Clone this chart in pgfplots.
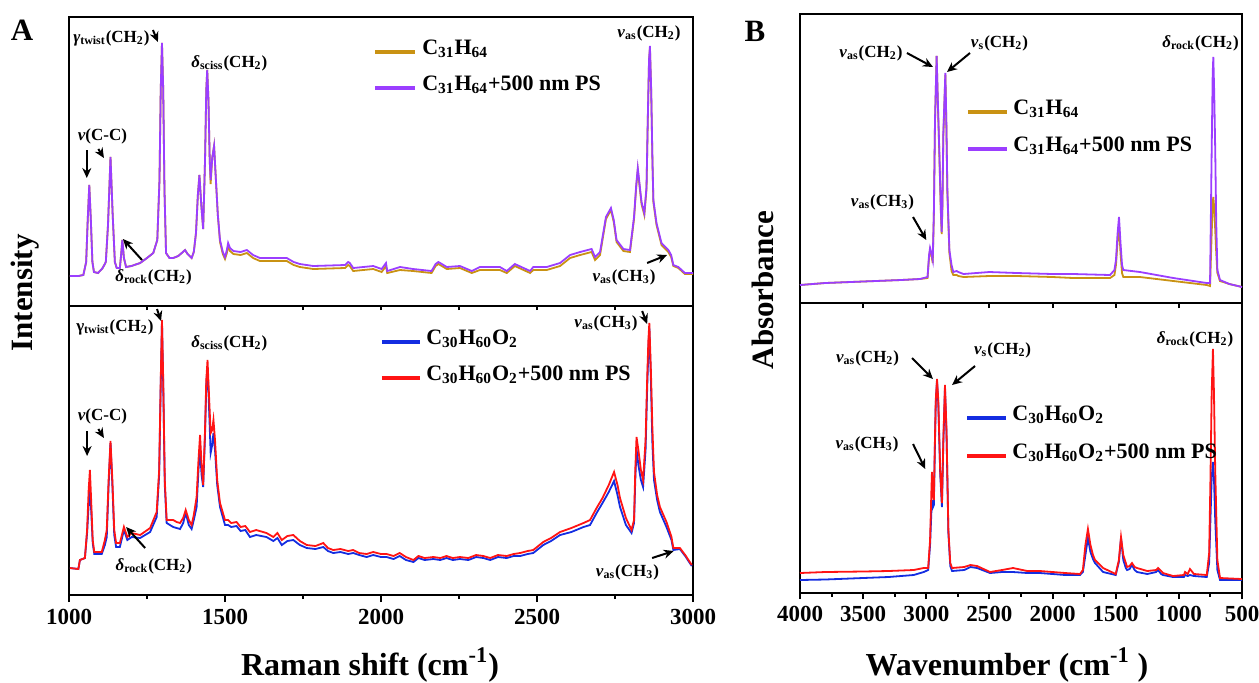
\documentclass[border=0pt]{standalone}
\usepackage{fontspec}
\setmainfont{Liberation Serif}
\usepackage{pgfplots}
\pgfplotsset{compat=1.18}
\usetikzlibrary{arrows.meta}

\definecolor{cgold}{RGB}{201,146,19}
\definecolor{cpurple}{RGB}{155,62,255}
\definecolor{cblue}{RGB}{20,45,225}
\definecolor{cred}{RGB}{255,20,20}

\newcommand{\vas}{\textit{v}\textsubscript{as}}
\newcommand{\vs}{\textit{v}\textsubscript{s}}
\newcommand{\CH}[1]{(CH\textsubscript{#1})}

\pgfplotsset{
  panel/.style={scale only axis, anchor=north west, ymin=0, ytick=\empty,
    axis line style={line width=1pt}, tick style={black, line width=1pt},
    tick align=outside, xtick pos=left, clip=false, scaled x ticks=false,
    xticklabel style={font=\fontsize{11.5}{13}\selectfont\bfseries},
    /pgf/number format/assume math mode=true,
    /pgf/number format/1000 sep={}},
}
\tikzset{
  lbl/.style={font=\fontsize{8.5}{10}\selectfont\bfseries, inner sep=0pt},
  arr/.style={-{Stealth[length=5pt,width=4.5pt]}, line width=1pt},
  leg/.style={font=\fontsize{11}{13}\selectfont\bfseries, anchor=base west, inner sep=0pt},
  big/.style={font=\fontsize{15.5}{18}\selectfont\bfseries},
}

\begin{document}
\begin{tikzpicture}
\useasboundingbox (0,0) rectangle (629.5pt,-341pt);

% ---------- A, top: Raman C31H64 ----------
\begin{axis}[panel, at={(34.5pt,-8.5pt)}, width=312pt, height=144.5pt,
  xmin=1000, xmax=3000, ymax=289,
  xtick={1000,1250,...,3000}, xticklabels={}, major tick length=2pt]
\addplot[cgold, line width=0.9pt] coordinates {
(1003,30)(1030,30)(1046,31)(1055,44)(1060,86)(1065,121)(1070,86)(1075,44)(1080,34)(1093,33)(1108,38)(1118,44)(1125,81)(1133,149)(1140,91)(1147,44)(1153,38)(1163,38)(1167,51)(1171,66)(1176,48)(1183,39)(1200,40)(1228,43)(1250,48)(1270,53)(1283,66)(1290,126)(1294,216)(1298,263)(1302,216)(1306,116)(1311,53)(1322,48)(1334,48)(1350,50)(1365,54)(1372,56)(1380,52)(1393,48)(1400,54)(1407,73)(1413,111)(1418,131)(1424,101)(1430,77)(1436,146)(1440,216)(1443,236)(1447,206)(1451,146)(1454,122)(1459,148)(1465,160)(1470,131)(1477,91)(1484,64)
(1493,52)(1500,47)(1506,53)(1510,60)(1516,55)(1527,52)(1550,51)(1570,53)(1590,48)(1612,45)(1650,45)(1698,45)(1720,41)(1740,39)(1783,37)(1885,38)(1895,41)(1900,40)(1911,35)(1975,37)(2002,34)(2016,40)(2020,33)(2061,36)(2103,35)(2162,33)(2175,40)(2184,42)(2211,37)(2253,38)(2291,33)(2317,36)(2381,36)(2403,33)(2429,40)(2478,33)(2488,36)(2531,36)(2574,40)(2606,48)(2638,51)(2675,54)(2686,46)(2702,51)(2721,87)(2737,96)(2746,84)(2755,64)(2777,55)(2798,54)(2811,87)(2818,119)(2823,136)(2829,119)(2835,102)(2844,91)(2851,117)(2855,184)(2859,244)(2862,258)(2866,214)(2870,144)(2873,104)(2883,81)(2899,61)(2921,54)(2930,49)(2937,40)(2953,38)(2974,32)(2985,32)(3000,32)
};
\addplot[cpurple, line width=0.9pt] coordinates {
(1003,30)(1030,30)(1046,31)(1055,44)(1060,86)(1065,121)(1070,86)(1075,44)(1080,34)(1093,33)(1108,38)(1118,44)(1125,81)(1133,149)(1140,91)(1147,44)(1153,38)(1163,38)(1167,51)(1171,66)(1176,48)(1183,39)(1200,40)(1228,43)(1250,48)(1270,53)(1283,66)(1290,126)(1294,216)(1298,263)(1302,216)(1306,116)(1311,53)(1322,48)(1334,48)(1350,50)(1365,54)(1372,56)(1380,52)(1393,48)(1400,54)(1407,73)(1413,111)(1418,131)(1424,101)(1430,77)(1436,146)(1440,216)(1443,236)(1447,206)(1451,146)(1454,126)(1459,148)(1465,160)(1470,131)(1477,91)(1484,66)
(1493,54)(1500,49)(1506,56)(1510,63)(1516,58)(1527,55)(1550,54)(1570,56)(1590,51)(1612,48)(1650,48)(1698,48)(1720,44)(1740,42)(1783,40)(1885,41)(1895,44)(1900,43)(1911,38)(1975,40)(2002,37)(2016,43)(2020,35)(2061,39)(2103,37)(2162,35)(2175,42)(2184,44)(2211,39)(2253,40)(2291,35)(2317,39)(2381,39)(2403,35)(2429,42)(2478,35)(2488,39)(2531,39)(2574,43)(2606,51)(2638,54)(2675,57)(2686,49)(2702,54)(2721,89)(2737,98)(2746,86)(2755,66)(2777,57)(2798,56)(2811,89)(2818,121)(2823,138)(2829,121)(2835,104)(2844,93)(2851,119)(2855,186)(2859,246)(2862,260)(2866,216)(2870,146)(2873,106)(2883,83)(2899,63)(2921,56)(2930,51)(2937,41)(2953,39)(2974,33)(2985,33)(3000,33)
};
\node[lbl] at (axis cs:1136,268) {\textit{γ}\textsubscript{twist}\CH{2}};
\draw[arr] (axis cs:1269,276) -- (axis cs:1285,264);
\node[lbl] at (axis cs:1514,243) {\textit{δ}\textsubscript{sciss}\CH{2}};
\node[lbl] at (axis cs:1107,170) {\textit{v}(C-C)};
\draw[arr] (axis cs:1057,156) -- (axis cs:1057,128);
\draw[arr] (axis cs:1094,157) -- (axis cs:1112,148);
\draw[arr] (axis cs:1234,46) -- (axis cs:1173,67);
\node[lbl] at (axis cs:1271,29) {\textit{δ}\textsubscript{rock}\CH{2}};
\node[lbl] at (axis cs:2859,273) {\vas\CH{2}};
\draw[arr] (axis cs:2853,43) -- (axis cs:2917,51);
\node[lbl] at (axis cs:2779,29) {\vas\CH{3}};
\draw[cgold, line width=2.2pt] (axis cs:1981,254) -- (axis cs:2109,254);
\node[leg] at (axis cs:2131,252) {C\textsubscript{31}H\textsubscript{64}};
\draw[cpurple, line width=2.2pt] (axis cs:1981,218) -- (axis cs:2109,218);
\node[leg] at (axis cs:2131,216) {C\textsubscript{31}H\textsubscript{64}+500 nm PS};
\end{axis}

% ---------- A, bottom: Raman C30H60O2 ----------
\begin{axis}[panel, at={(34.5pt,-153pt)}, width=312pt, height=144.5pt,
  xmin=1000, xmax=3000, ymax=289,
  xtick={1000,1500,...,3000}, minor xtick={1250,1750,...,2750},
  major tick length=3.5pt, minor tick length=2pt]
\addplot[cblue, line width=0.9pt] coordinates {
(1003,27)(1030,26)(1035,35)(1051,37)(1058,62)(1063,90)(1067,105)(1071,85)(1076,52)(1081,41)(1105,41)(1115,50)(1121,58)(1127,110)(1133,152)(1139,110)(1145,60)(1151,48)(1163,48)(1176,65)(1187,55)(1201,58)(1228,57)(1260,63)(1281,78)(1289,120)(1294,210)(1298,273)(1302,210)(1307,110)(1313,72)(1334,68)(1345,67)(1356,66)(1366,72)(1374,82)(1384,70)(1393,66)(1400,75)(1409,88)(1415,125)(1420,145)(1425,120)(1430,108)(1436,160)(1440,210)(1444,228)(1448,195)(1454,142)(1459,150)(1463,162)(1468,145)(1475,110)(1484,88)(1500,70)(1510,70)(1520,68)(1537,69)(1550,64)(1565,65)(1580,58)(1600,60)(1633,58)(1655,54)(1668,57)(1682,50)(1700,54)(1719,55)(1740,50)(1762,47)(1790,46)(1815,48)(1830,44)(1847,42)(1870,43)(1895,41)(1911,42)(1930,40)(1954,38)(1975,40)(2000,38)(2018,38)(2040,36)(2060,39)(2080,35)(2104,33)(2120,37)(2140,35)(2168,36)(2190,35)(2210,37)(2230,35)(2253,36)(2280,35)(2305,38)(2328,37)(2350,35)(2375,38)(2403,37)(2425,39)(2446,39)(2470,41)(2488,42)(2520,50)(2545,54)(2574,60)(2610,63)(2649,68)(2670,70)(2691,82)(2710,92)(2730,103)(2747,114)(2758,100)(2766,88)(2785,70)(2803,62)(2811,72)(2815,115)(2819,146)(2825,130)(2833,115)(2840,108)(2848,145)(2853,205)(2857,245)(2860,267)(2865,215)(2870,150)(2875,115)(2885,95)(2894,83)(2915,68)(2931,55)(2937,45)(2958,46)(2975,39)(2996,29)
};
\addplot[cred, line width=0.9pt] coordinates {
(1003,27)(1030,26)(1035,35)(1051,37)(1058,65)(1063,105)(1067,125)(1071,95)(1076,55)(1081,43)(1105,43)(1115,55)(1121,65)(1127,115)(1133,154)(1139,115)(1145,65)(1151,52)(1163,52)(1176,68)(1187,58)(1201,62)(1228,60)(1260,67)(1281,83)(1289,125)(1294,215)(1298,275)(1302,215)(1307,115)(1313,75)(1334,75)(1345,73)(1356,72)(1366,77)(1374,85)(1384,75)(1393,70)(1400,80)(1409,98)(1415,135)(1420,160)(1425,130)(1430,110)(1436,165)(1440,215)(1444,235)(1448,205)(1454,162)(1459,165)(1463,175)(1468,155)(1475,115)(1484,92)(1500,75)(1510,75)(1520,72)(1537,73)(1550,68)(1565,69)(1580,63)(1600,65)(1633,62)(1655,58)(1668,62)(1682,55)(1700,59)(1719,60)(1740,54)(1762,50)(1790,49)(1815,52)(1830,47)(1847,45)(1870,46)(1895,44)(1911,45)(1930,42)(1954,41)(1975,43)(2000,41)(2018,41)(2040,39)(2060,42)(2080,38)(2104,35)(2120,39)(2140,37)(2168,38)(2190,37)(2210,39)(2230,37)(2253,38)(2280,37)(2305,40)(2328,39)(2350,37)(2375,40)(2403,39)(2425,41)(2446,42)(2470,44)(2488,45)(2520,53)(2545,57)(2574,63)(2610,67)(2649,72)(2670,75)(2691,87)(2710,97)(2730,110)(2747,123)(2758,110)(2766,97)(2785,77)(2803,65)(2811,75)(2815,125)(2819,158)(2825,145)(2833,125)(2840,115)(2848,155)(2853,215)(2857,255)(2860,272)(2865,225)(2870,165)(2875,123)(2885,100)(2894,88)(2915,73)(2931,58)(2937,47)(2958,47)(2975,40)(2996,30)
};
\node[lbl] at (axis cs:1147,268) {γ\textsubscript{twist}\CH{2}};
\draw[arr] (axis cs:1282,286) -- (axis cs:1295,274);
\node[lbl] at (axis cs:1514,252) {\textit{δ}\textsubscript{sciss}\CH{2}};
\node[lbl] at (axis cs:1107,179) {\textit{v}(C-C)};
\draw[arr] (axis cs:1058,164) -- (axis cs:1058,139);
\draw[arr] (axis cs:1094,166) -- (axis cs:1112,157);
\draw[arr] (axis cs:1244,47) -- (axis cs:1183,68);
\node[lbl] at (axis cs:1272,29) {\textit{δ}\textsubscript{rock}\CH{2}};
\node[lbl] at (axis cs:2721,272) {\vas\CH{3}};
\draw[arr] (axis cs:2837,284) -- (axis cs:2853,271);
\draw[arr] (axis cs:2869,37) -- (axis cs:2938,44);
\node[lbl] at (axis cs:2790,23) {\vas\CH{3}};
\draw[cblue, line width=2.2pt] (axis cs:2003,253) -- (axis cs:2125,253);
\node[leg] at (axis cs:2144,251) {C\textsubscript{30}H\textsubscript{60}O\textsubscript{2}};
\draw[cred, line width=2.2pt] (axis cs:2003,217) -- (axis cs:2125,217);
\node[leg] at (axis cs:2144,215) {C\textsubscript{30}H\textsubscript{60}O\textsubscript{2}+500 nm PS};
\end{axis}

% ---------- B, top: IR C31H64 ----------
\begin{axis}[panel, at={(400pt,-7pt)}, width=221pt, height=144.5pt,
  x dir=reverse, xmin=500, xmax=4000, ymax=289,
  xtick={1000,1500,...,3500}, xticklabels={}, major tick length=2.5pt]
\addplot[cgold, line width=0.9pt] coordinates {
(4000,18)(3800,20)(3600,21)(3400,22)(3200,23)(3050,24)(2990,25)(2978,46)(2970,53)(2960,48)(2949,40)(2940,88)(2931,181)(2918,247)(2908,198)(2897,150)(2885,92)(2878,69)(2872,97)(2865,167)(2849,228)(2841,177)(2833,110)(2817,50)(2800,32)(2786,28)(2760,28)(2746,27)(2705,26)(2500,27)(2284,27)(2000,26)(1838,25)(1545,25)(1510,28)(1498,38)(1485,62)(1474,78)(1462,50)(1450,30)(1440,26)(1308,26)(1044,22)(779,18)(753,17)(740,70)(732,100)(727,106)(720,95)(712,73)(704,50)(695,30)(674,22)(600,19)(500,16)
};
\addplot[cpurple, line width=0.9pt] coordinates {
(4000,18)(3800,20)(3600,21)(3400,22)(3200,23)(3050,24)(2990,26)(2978,48)(2970,55)(2960,50)(2949,43)(2940,90)(2931,183)(2918,247)(2908,200)(2897,153)(2885,95)(2878,71)(2872,100)(2865,170)(2849,230)(2841,180)(2833,113)(2817,53)(2800,38)(2786,31)(2760,32)(2746,31)(2705,29)(2500,31)(2284,30)(2000,29)(1838,29)(1545,28)(1510,33)(1498,43)(1485,70)(1474,86)(1462,60)(1450,38)(1440,33)(1308,31)(1044,25)(779,20)(753,20)(740,153)(732,230)(727,246)(720,210)(712,153)(704,80)(695,33)(674,23)(600,19)(500,16)
};
\node[lbl] at (axis cs:3438,250) {\vas\CH{2}};
\draw[arr] (axis cs:3153,250) -- (axis cs:2947,236);
\node[lbl] at (axis cs:2420,260) {\vs\CH{2}};
\draw[arr] (axis cs:2654,250) -- (axis cs:2836,231);
\node[lbl] at (axis cs:828,260) {\textit{δ}\textsubscript{rock}\CH{2}};
\node[lbl] at (axis cs:3347,101) {\vas\CH{3}};
\draw[arr] (axis cs:3105,86) -- (axis cs:3000,63);
\draw[cgold, line width=2.2pt] (axis cs:2670,191) -- (axis cs:2361,191);
\node[leg] at (axis cs:2313,189) {C\textsubscript{31}H\textsubscript{64}};
\draw[cpurple, line width=2.2pt] (axis cs:2670,154) -- (axis cs:2361,154);
\node[leg] at (axis cs:2313,152) {C\textsubscript{31}H\textsubscript{64}+500 nm PS};
\end{axis}

% ---------- B, bottom: IR C30H60O2 ----------
\begin{axis}[panel, at={(400pt,-151.5pt)}, width=221pt, height=145pt,
  x dir=reverse, xmin=500, xmax=4000, ymax=290,
  xtick={500,1000,...,4000}, minor xtick={750,1250,...,3750},
  major tick length=3pt, minor tick length=1.8pt]
\addplot[cblue, line width=0.9pt] coordinates {
(4000,13)(3800,13.5)(3500,15)(3300,16)(3100,18)(3020,21)(2985,23)(2970,48)(2960,80)(2955,93)(2950,85)(2940,88)(2932,145)(2925,190)(2915,212)(2905,190)(2890,120)(2876,86)(2865,150)(2852,205)(2840,160)(2825,60)(2810,27)(2796,22)(2700,23)(2650,26)(2598,25)(2495,20)(2400,21)(2313,21)(2200,20)(2100,20)(1900,18)(1783,18)(1760,21)(1740,38)(1720,55)(1700,41)(1680,34)(1664,30)(1600,21)(1500,18)(1475,31)(1458,55)(1440,33)(1420,25)(1410,23)(1390,24)(1371,28)(1350,23)(1331,21)(1250,19)(1180,21)(1165,23)(1140,19)(1126,18)(1046,16)(960,16)(951,18)(930,17)(912,18)(880,17)(779,16)(760,30)(750,73)(740,115)(730,131)(722,115)(712,73)(695,23)(674,13)(500,13)
};
\addplot[cred, line width=0.9pt] coordinates {
(4000,20)(3800,21)(3500,21.5)(3300,22)(3100,23)(3020,25)(2985,25)(2970,53)(2960,100)(2955,121)(2950,100)(2940,93)(2932,150)(2925,193)(2915,214)(2905,193)(2890,123)(2876,90)(2865,153)(2852,208)(2840,163)(2825,63)(2810,30)(2796,25)(2700,26)(2650,28)(2598,27)(2495,21)(2400,23)(2313,25)(2200,22)(2100,22)(1900,20)(1783,19)(1760,23)(1740,48)(1720,64)(1700,48)(1680,38)(1664,33)(1600,25)(1500,19)(1475,33)(1458,56)(1440,38)(1420,30)(1410,26)(1390,27)(1371,30)(1350,26)(1331,25)(1250,22)(1180,23)(1165,25)(1140,22)(1126,20)(1046,17)(960,18)(951,21)(930,19)(912,24)(880,19)(779,18)(760,40)(750,113)(740,200)(730,244)(722,200)(712,123)(695,33)(674,15)(500,14)
};
\node[lbl] at (axis cs:3465,235) {\vas\CH{2}};
\draw[arr] (axis cs:3113,235) -- (axis cs:2947,214);
\node[lbl] at (axis cs:2396,243) {\vs\CH{2}};
\draw[arr] (axis cs:2614,227) -- (axis cs:2796,208);
\node[lbl] at (axis cs:872,254) {\textit{δ}\textsubscript{rock}\CH{2}};
\node[lbl] at (axis cs:3469,149) {\vas\CH{3}};
\draw[arr] (axis cs:3105,149) -- (axis cs:3008,124);
\draw[cblue, line width=2.2pt] (axis cs:2677,175) -- (axis cs:2369,175);
\node[leg] at (axis cs:2321,173) {C\textsubscript{30}H\textsubscript{60}O\textsubscript{2}};
\draw[cred, line width=2.2pt] (axis cs:2677,137) -- (axis cs:2369,137);
\node[leg] at (axis cs:2321,135) {C\textsubscript{30}H\textsubscript{60}O\textsubscript{2}+500 nm PS};
\end{axis}

% panel letters and axis titles
\node[big] at (11pt,-15pt) {A};
\node[big] at (377.5pt,-15.5pt) {B};
\node[big, rotate=90] at (12.5pt,-146.5pt) {Intensity};
\node[big, rotate=90] at (381.5pt,-145pt) {Absorbance};
\node[anchor=base, font=\fontsize{16}{19}\selectfont\bfseries] at (185pt,-337.5pt) {Raman shift (cm\textsuperscript{-1})};
\node[anchor=base, font=\fontsize{16}{19}\selectfont\bfseries] at (503.5pt,-337.5pt) {Wavenumber (cm\textsuperscript{-1} )};
\end{tikzpicture}
\end{document}
